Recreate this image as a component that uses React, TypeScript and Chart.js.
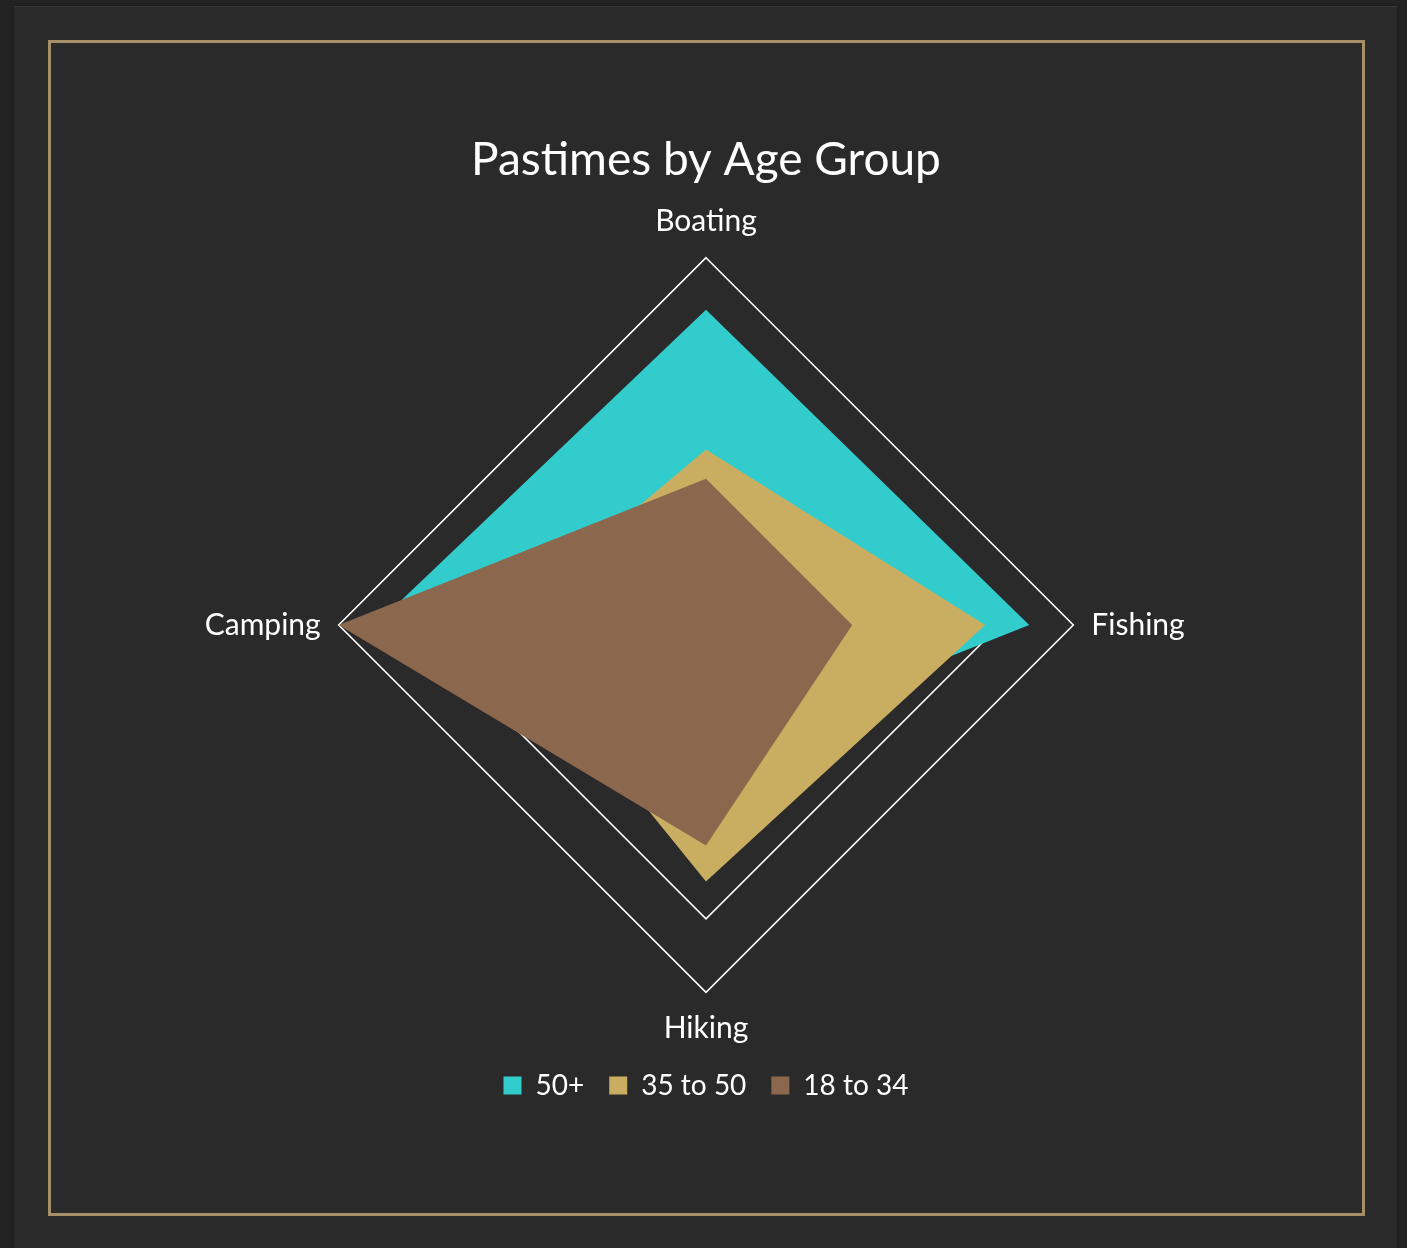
import React, { useEffect, useRef } from "react";
import { Chart, registerables } from "chart.js";

Chart.register(...registerables);

// ---- data ----
const chartTitle = "Pastimes by Age Group";
const categories = ["Boating", "Fishing", "Hiking", "Camping"];
const seriesNames = ["50+", "35 to 50", "18 to 34"];
const values50Plus = [42.9, 44.0, 17.5, 45.0];
const values35to50 = [23.9, 38.0, 34.9, 28.3];
const values18to34 = [19.9, 19.9, 30.0, 50.0];
const ringTicks = [0, 40, 50];

const seriesColors = ["#33cccc", "#c9ae62", "#8b684d"];
const FONT = "Lato, 'Noto Sans', sans-serif";

export default function App() {
  const canvasRef = useRef<HTMLCanvasElement | null>(null);

  useEffect(() => {
    const canvas = canvasRef.current;
    if (!canvas) return;
    const seriesValues = [values50Plus, values35to50, values18to34];
    const chart = new Chart(canvas, {
      type: "radar",
      data: {
        labels: categories,
        datasets: seriesNames.map((name, i) => ({
          label: name,
          data: seriesValues[i],
          backgroundColor: seriesColors[i],
          borderColor: seriesColors[i],
          borderWidth: 0,
          fill: true,
          pointRadius: 0,
          pointHoverRadius: 0,
          order: seriesNames.length - i,
        })),
      },
      options: {
        responsive: false,
        animation: false,
        devicePixelRatio: 1,
        layout: { padding: { top: 0, bottom: 103.5, left: 0, right: 0 } },
        plugins: {
          title: {
            display: true,
            text: chartTitle,
            color: "#ffffff",
            font: { family: FONT, size: 46, weight: "normal" },
            padding: { top: 89.4, bottom: 16.1 },
          },
          legend: {
            display: true,
            position: "bottom",
            labels: {
              color: "#ffffff",
              font: { family: FONT, size: 28 },
              boxWidth: 18,
              boxHeight: 18,
              padding: 25,
              sort: (a: any, b: any) => a.datasetIndex - b.datasetIndex,
            },
          },
          tooltip: { enabled: false },
        },
        scales: {
          r: {
            min: 0,
            max: 50,
            afterBuildTicks: (scale: any) => {
              scale.ticks = ringTicks.map((v) => ({ value: v }));
            },
            ticks: { display: false },
            grid: { color: "#ffffff", lineWidth: 1.6 },
            angleLines: { display: false },
            pointLabels: {
              color: "#ffffff",
              font: { family: FONT, size: 30 },
              padding: 18,
            },
          },
        },
        elements: { line: { borderWidth: 0, tension: 0 } },
      },
    });
    return () => chart.destroy();
  }, []);

  return (
    <div
      style={{
        position: "absolute",
        left: 0,
        top: 0,
        width: 1407,
        height: 1248,
        background: "#232323",
        overflow: "hidden",
      }}
    >
      <div
        style={{
          position: "absolute",
          left: 14,
          top: 6,
          width: 1383,
          height: 1260,
          background: "#2a2a2a",
          borderTop: "1px solid #383838",
          boxShadow: "0 0 4px rgba(0,0,0,0.35)",
        }}
      />
      <div
        style={{
          position: "absolute",
          left: 48,
          top: 40,
          width: 1317,
          height: 1176,
          border: "3px solid #a68e66",
          boxSizing: "border-box",
        }}
      />
      <canvas
        ref={canvasRef}
        width={1310}
        height={1170}
        style={{ position: "absolute", left: 51, top: 43, width: 1310, height: 1170 }}
      />
    </div>
  );
}
